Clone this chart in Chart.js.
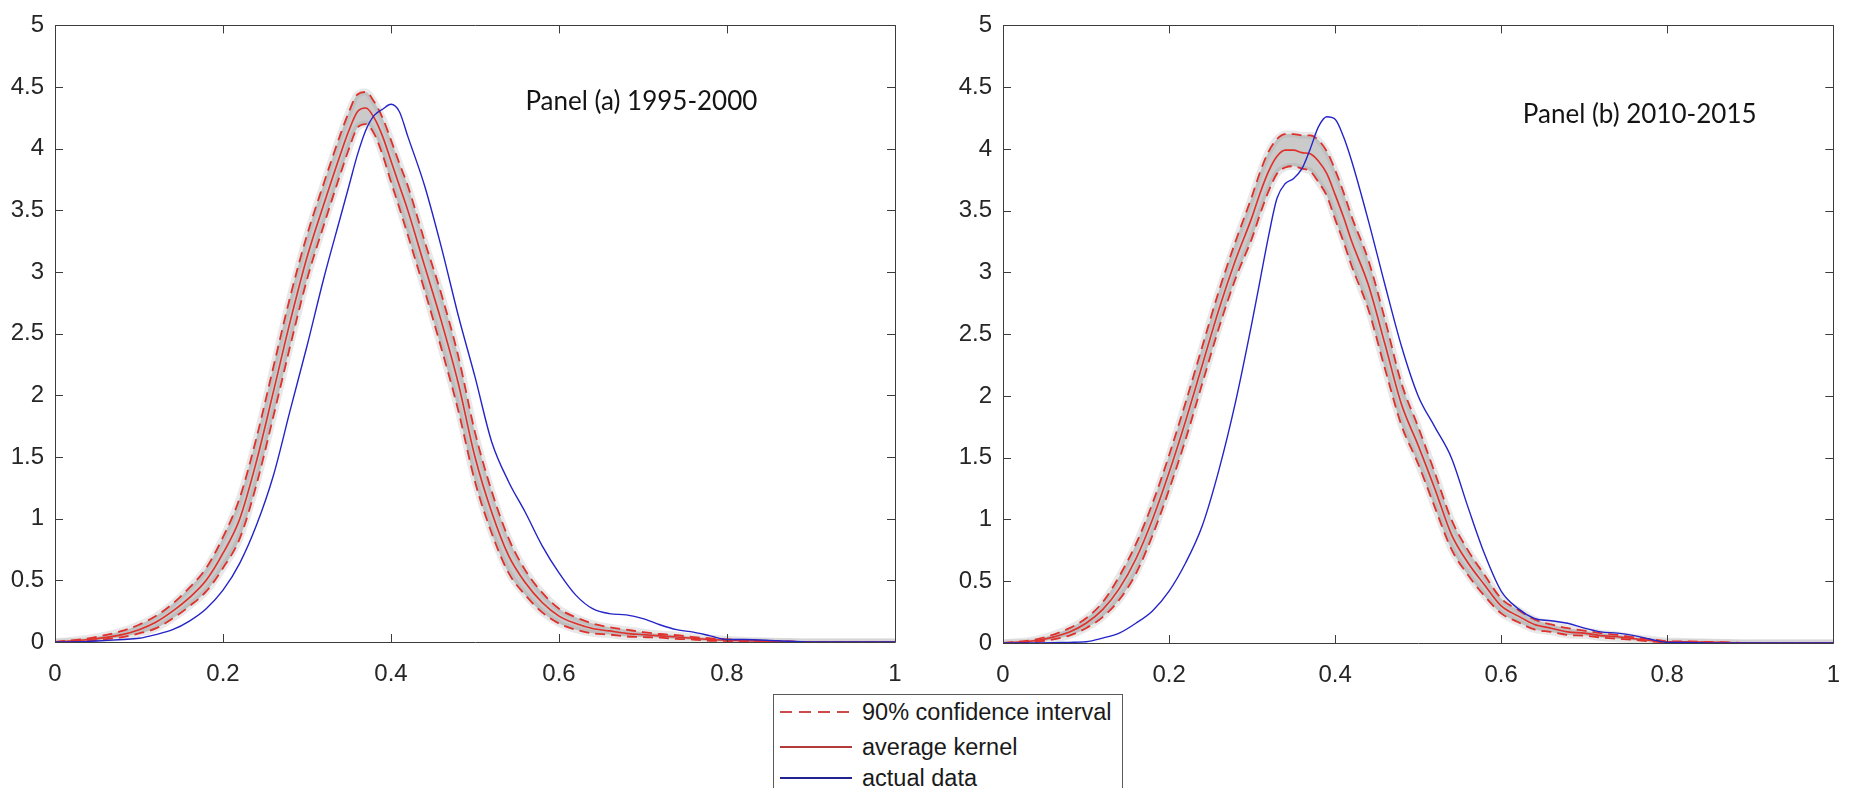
<!DOCTYPE html>
<html>
<head>
<meta charset="utf-8">
<script src="https://cdn.jsdelivr.net/npm/chart.js@4.4.1/dist/chart.umd.min.js"></script>
<style>
  html, body { margin: 0; padding: 0; background: #fff; }
  body { width: 1858px; height: 788px; position: relative; overflow: hidden; font-family: "Liberation Sans", Arial, sans-serif; }
  canvas { position: absolute; top: 0; }
  #chartA { left: 0; }
  #chartB { left: 948px; }
  .legend { position: absolute; left: 773px; top: 694px; width: 350px; height: 120px; border: 1px solid #5a5a5a; background: #fff; box-sizing: border-box; }
  .row { position: absolute; left: 6px; height: 30px; width: 340px; }
  .swatch { position: absolute; left: 0; top: 14px; width: 72px; height: 1.5px; }
  .dash { background: repeating-linear-gradient(to right, #cc4a4a 0 12px, transparent 12px 19px); }
  .solidRed { background: #b53a3a; }
  .solidBlue { background: #23238f; }
  .label { position: absolute; left: 82px; top: 0; font-size: 23.5px; line-height: 30px; color: #1a1a1a; white-space: nowrap; }
</style>
</head>
<body>
<canvas id="chartA" width="920" height="700"></canvas>
<canvas id="chartB" width="910" height="700"></canvas>
<div class="legend">
  <div class="row" style="top:2px"><div class="swatch dash"></div><div class="label">90% confidence interval</div></div>
  <div class="row" style="top:37px"><div class="swatch solidRed"></div><div class="label">average kernel</div></div>
  <div class="row" style="top:68px"><div class="swatch solidBlue"></div><div class="label">actual data</div></div>
</div>
<script>
// Panel (a) 1995-2000
const xsA = [0, 0.04, 0.08, 0.1, 0.12, 0.14, 0.16, 0.18, 0.2, 0.22, 0.24, 0.26, 0.28, 0.3, 0.32, 0.34, 0.35, 0.36, 0.37, 0.38, 0.39, 0.4, 0.41, 0.42, 0.44, 0.46, 0.48, 0.5, 0.52, 0.54, 0.56, 0.58, 0.6, 0.62, 0.64, 0.66, 0.68, 0.7, 0.72, 0.74, 0.76, 0.78, 0.8, 0.82, 0.86, 0.9, 1]
const meanA = [0, 0.02, 0.06, 0.1, 0.16, 0.25, 0.36, 0.5, 0.72, 1.0, 1.47, 2.03, 2.6, 3.12, 3.55, 3.96, 4.15, 4.3, 4.33, 4.25, 4.1, 3.9, 3.7, 3.5, 3.05, 2.6, 2.1, 1.5, 1.05, 0.7, 0.48, 0.32, 0.21, 0.15, 0.11, 0.09, 0.07, 0.06, 0.05, 0.04, 0.03, 0.02, 0.015, 0.01, 0.005, 0, 0]
const upperA = [0, 0.03, 0.09, 0.14, 0.21, 0.31, 0.44, 0.6, 0.85, 1.17, 1.66, 2.23, 2.8, 3.3, 3.72, 4.12, 4.3, 4.44, 4.46, 4.38, 4.25, 4.07, 3.88, 3.7, 3.25, 2.82, 2.32, 1.7, 1.22, 0.84, 0.58, 0.4, 0.27, 0.2, 0.15, 0.12, 0.1, 0.08, 0.065, 0.055, 0.04, 0.03, 0.022, 0.015, 0.007, 0, 0]
const lowerA = [0, 0.01, 0.04, 0.07, 0.11, 0.19, 0.29, 0.41, 0.6, 0.84, 1.28, 1.83, 2.4, 2.94, 3.38, 3.8, 4.0, 4.17, 4.2, 4.12, 3.95, 3.73, 3.52, 3.3, 2.85, 2.38, 1.88, 1.3, 0.88, 0.56, 0.38, 0.24, 0.15, 0.1, 0.07, 0.06, 0.045, 0.04, 0.035, 0.025, 0.02, 0.01, 0.008, 0.005, 0.003, 0, 0]
const actualA = [0, 0.005, 0.02, 0.03, 0.06, 0.1, 0.17, 0.27, 0.42, 0.64, 0.95, 1.35, 1.88, 2.4, 2.95, 3.45, 3.7, 3.95, 4.15, 4.27, 4.32, 4.36, 4.3, 4.1, 3.7, 3.2, 2.65, 2.15, 1.62, 1.3, 1.05, 0.78, 0.56, 0.38, 0.27, 0.23, 0.22, 0.19, 0.14, 0.1, 0.08, 0.05, 0.02, 0.02, 0.01, 0, 0]

// Panel (b) 2010-2015
const xsB = [0, 0.04, 0.08, 0.1, 0.12, 0.14, 0.16, 0.18, 0.2, 0.22, 0.24, 0.26, 0.28, 0.3, 0.31, 0.32, 0.33, 0.34, 0.35, 0.36, 0.37, 0.38, 0.39, 0.4, 0.41, 0.42, 0.44, 0.46, 0.48, 0.5, 0.52, 0.54, 0.56, 0.58, 0.6, 0.62, 0.64, 0.66, 0.68, 0.7, 0.72, 0.74, 0.76, 0.78, 0.8, 0.82, 0.86, 0.9, 1]
const meanB = [0, 0.02, 0.09, 0.16, 0.27, 0.44, 0.68, 1.0, 1.38, 1.8, 2.25, 2.7, 3.1, 3.45, 3.65, 3.82, 3.94, 3.99, 3.99, 3.97, 3.96, 3.9, 3.8, 3.63, 3.45, 3.25, 2.9, 2.42, 1.93, 1.6, 1.25, 0.88, 0.65, 0.47, 0.3, 0.22, 0.15, 0.12, 0.09, 0.08, 0.06, 0.05, 0.035, 0.02, 0.01, 0.01, 0.005, 0, 0]
const upperB = [0, 0.03, 0.12, 0.2, 0.33, 0.54, 0.8, 1.13, 1.52, 1.95, 2.4, 2.85, 3.25, 3.62, 3.82, 3.98, 4.08, 4.12, 4.12, 4.11, 4.11, 4.07, 3.98, 3.83, 3.65, 3.45, 3.1, 2.62, 2.1, 1.75, 1.38, 1.0, 0.75, 0.55, 0.36, 0.27, 0.19, 0.15, 0.12, 0.1, 0.08, 0.065, 0.045, 0.03, 0.015, 0.013, 0.007, 0, 0]
const lowerB = [0, 0.01, 0.06, 0.12, 0.21, 0.35, 0.56, 0.87, 1.24, 1.65, 2.1, 2.55, 2.95, 3.28, 3.48, 3.66, 3.8, 3.85, 3.86, 3.84, 3.82, 3.73, 3.62, 3.43, 3.25, 3.05, 2.7, 2.22, 1.76, 1.45, 1.1, 0.76, 0.55, 0.38, 0.24, 0.17, 0.11, 0.09, 0.065, 0.06, 0.045, 0.035, 0.025, 0.012, 0.006, 0.006, 0.003, 0, 0]
const actualB = [0, 0, 0.005, 0.01, 0.04, 0.08, 0.16, 0.26, 0.42, 0.65, 0.95, 1.4, 1.95, 2.6, 2.95, 3.3, 3.6, 3.72, 3.76, 3.84, 4.0, 4.18, 4.26, 4.24, 4.1, 3.9, 3.42, 2.9, 2.4, 2.0, 1.75, 1.5, 1.1, 0.72, 0.42, 0.28, 0.2, 0.18, 0.16, 0.12, 0.09, 0.08, 0.06, 0.03, 0.005, 0.005, 0, 0, 0]

const xTickLabels = ['0', '0.2', '0.4', '0.6', '0.8', '1']
const yTickLabels = ['0', '0.5', '1', '1.5', '2', '2.5', '3', '3.5', '4', '4.5', '5']

const RED = '#e0302c'
const BLUE = '#2424c8'
const HALO = 'rgba(165, 165, 165, 0.25)'
const BAND = 'rgba(150, 150, 150, 0.5)'
const AXIS = '#3c3c3c'
const TICK_FONT = { family: 'Liberation Sans', size: 24 }

// MATLAB style box with inward ticks, plus the panel caption
const matlabAxes = {
    id: 'panelLabel',
    afterDraw(chart, args, opts) {
        const { ctx, chartArea: a } = chart
        const x = chart.scales.x
        const y = chart.scales.y
        ctx.save()
        ctx.strokeStyle = AXIS
        ctx.lineWidth = 1
        ctx.beginPath()
        ctx.rect(Math.round(a.left) + 0.5, Math.round(a.top) + 0.5, Math.round(a.width), Math.round(a.height))
        x.ticks.forEach(t => {
            const px = Math.round(x.getPixelForValue(t.value)) + 0.5
            ctx.moveTo(px, a.bottom); ctx.lineTo(px, a.bottom - 8)
            ctx.moveTo(px, a.top); ctx.lineTo(px, a.top + 8)
        })
        y.ticks.forEach(t => {
            const py = Math.round(y.getPixelForValue(t.value)) + 0.5
            ctx.moveTo(a.left, py); ctx.lineTo(a.left + 8, py)
            ctx.moveTo(a.right, py); ctx.lineTo(a.right - 8, py)
        })
        ctx.stroke()

        ctx.font = '26px Lato'
        ctx.fillStyle = '#141414'
        ctx.textBaseline = 'middle'
        ctx.textAlign = 'left'
        ctx.fillText(opts.text, x.getPixelForValue(opts.x), y.getPixelForValue(opts.y))
        ctx.restore()
    }
}

function pts(xs, ys) {
    return xs.map((x, i) => ({ x: x, y: ys[i] }))
}

function makePanel(id, xs, mean, upper, lower, actual, caption, box) {
    const ctx = document.getElementById(id).getContext('2d')
    return new Chart(ctx, {
        type: 'line',
        data: {
            datasets: [
                { label: 'actual data', data: pts(xs, actual), borderColor: BLUE, borderWidth: 1.4 },
                { label: 'average kernel', data: pts(xs, mean), borderColor: RED, borderWidth: 1.6 },
                { label: '90% confidence interval', data: pts(xs, upper), borderColor: RED, borderWidth: 1.8, borderDash: [10, 6] },
                { label: 'lower', data: pts(xs, lower), borderColor: RED, borderWidth: 1.8, borderDash: [10, 6] },
                { label: 'band', data: pts(xs, upper), borderColor: HALO, borderWidth: 7, fill: '+1', backgroundColor: BAND },
                { label: 'band low', data: pts(xs, lower), borderColor: HALO, borderWidth: 7 }
            ]
        },
        options: {
            responsive: false,
            animation: false,
            events: [],
            datasets: { line: { pointRadius: 0, cubicInterpolationMode: 'monotone', fill: false } },
            layout: { padding: { top: box.top, right: box.right, left: 0, bottom: 0 } },
            plugins: {
                legend: { display: false },
                tooltip: { enabled: false },
                panelLabel: caption
            },
            scales: {
                x: {
                    type: 'linear', min: 0, max: 1,
                    grid: { display: false, drawTicks: false },
                    border: { display: false },
                    ticks: {
                        stepSize: 0.2, maxRotation: 0, padding: 18, color: '#262626', font: TICK_FONT,
                        callback: (v, i) => xTickLabels[i]
                    },
                    afterFit: s => { s.height = box.axisH }
                },
                y: {
                    min: 0, max: 5,
                    grid: { display: false, drawTicks: false },
                    border: { display: false },
                    ticks: {
                        stepSize: 0.5, padding: 11, color: '#262626', font: TICK_FONT,
                        callback: (v, i) => yTickLabels[i]
                    },
                    afterFit: s => { s.width = 55 }
                }
            }
        },
        plugins: [matlabAxes]
    })
}

makePanel('chartA', xsA, meanA, upperA, lowerA, actualA,
    { text: 'Panel (a) 1995-2000', x: 0.56, y: 4.38 },
    { top: 17, right: 25, axisH: 58 })
makePanel('chartB', xsB, meanB, upperB, lowerB, actualB,
    { text: 'Panel (b) 2010-2015', x: 0.626, y: 4.28 },
    { top: 19, right: 15, axisH: 57 })
</script>
</body>
</html>
